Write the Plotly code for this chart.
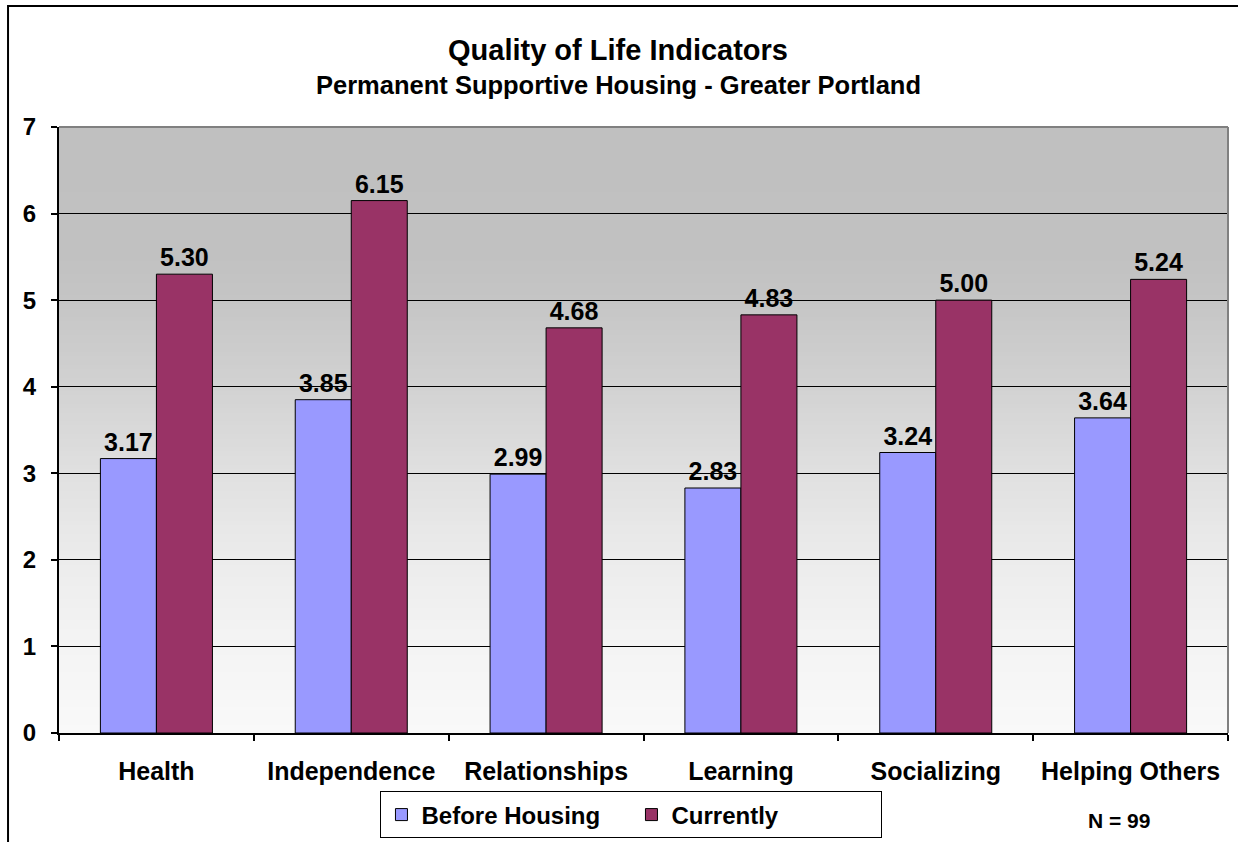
import plotly.graph_objects as go

categories = ['Health', 'Independence', 'Relationships', 'Learning', 'Socializing', 'Helping Others']
before_housing = [3.17, 3.85, 2.99, 2.83, 3.24, 3.64]
currently = [5.30, 6.15, 4.68, 4.83, 5.00, 5.24]
y_ticks = [0, 1, 2, 3, 4, 5, 6, 7]

FONT = 'Arial, Liberation Sans, sans-serif'

# background gradient stops: (y value, gray level)
grad_stops = [(0, 249), (1, 244), (2, 236), (3, 224), (4, 210), (5, 197), (5.5, 193), (7, 192)]


def gray_at(v):
    for (y0, g0), (y1, g1) in zip(grad_stops[:-1], grad_stops[1:]):
        if y0 <= v <= y1:
            t = (v - y0) / (y1 - y0)
            g = round(g0 + t * (g1 - g0))
            return f'rgb({g},{g},{g})'
    return 'rgb(192,192,192)'


fig = go.Figure()

for name, vals, color in [('Before Housing', before_housing, '#9999ff'),
                          ('Currently', currently, '#993366')]:
    fig.add_trace(go.Bar(
        x=categories, y=vals, name=name,
        marker=dict(color=color, line=dict(color='black', width=1)),
        text=[f'{v:.2f}' for v in vals], textposition='outside',
        textfont=dict(family=FONT, size=25, color='black'),
        texttemplate='<b>%{text}</b>', cliponaxis=False,
    ))

shapes = []
step = 0.05
n = int(7 / step)
for i in range(n):
    y0 = i * step
    shapes.append(dict(
        type='rect', xref='paper', yref='y', x0=0, x1=1, y0=y0, y1=y0 + step + 0.01,
        fillcolor=gray_at(y0 + step / 2), line=dict(width=0), layer='below',
    ))
# plot area border (top and right gray)
shapes.append(dict(type='line', xref='paper', yref='paper', x0=0, x1=1, y0=1, y1=1,
                   line=dict(color='#808080', width=2)))
shapes.append(dict(type='line', xref='paper', yref='paper', x0=1, x1=1, y0=0, y1=1,
                   line=dict(color='#808080', width=2)))
# outer chart border
shapes.append(dict(type='rect', xref='paper', yref='paper', x0=-0.0436, x1=1.2, y0=-0.3, y1=1.1997,
                   line=dict(color='black', width=2), fillcolor='rgba(0,0,0,0)'))

fig.update_layout(
    width=1238, height=842,
    margin=dict(l=59, r=10, t=127, b=109, autoexpand=False),
    paper_bgcolor='white', plot_bgcolor='white',
    font=dict(family=FONT, color='black'),
    barmode='group', bargap=0.425, bargroupgap=0,
    shapes=shapes,
    showlegend=True,
    legend=dict(
        orientation='h', x=0.4897, xanchor='center', y=-0.0965, yanchor='top',
        bordercolor='black', borderwidth=1, bgcolor='white',
        font=dict(family=FONT, size=24, color='black', weight='bold'),
        entrywidth=205,
    ),
    annotations=[
        dict(text='<b>Quality of Life Indicators</b>', xref='paper', yref='paper',
             x=0.4786, y=1.127, xanchor='center', yanchor='middle', showarrow=False,
             font=dict(size=29, family=FONT)),
        dict(text='<b>Permanent Supportive Housing - Greater Portland</b>', xref='paper', yref='paper',
             x=0.4786, y=1.069, xanchor='center', yanchor='middle', showarrow=False,
             font=dict(size=25.5, family=FONT)),
        dict(text='<b>N = 99</b>', xref='paper', yref='paper',
             x=0.9068, y=-0.144, xanchor='center', yanchor='middle', showarrow=False,
             font=dict(size=21, family=FONT)),
    ],
)

fig.update_xaxes(
    showline=True, linecolor='black', linewidth=2,
    ticks='outside', tickson='boundaries', ticklen=6, tickcolor='black', tickwidth=2,
    tickfont=dict(family=FONT, size=25, color='black', weight='bold'),
    ticklabelstandoff=15, showgrid=False, automargin=False,
)
fig.update_yaxes(
    range=[0, 7], tickvals=y_ticks, ticktext=[f'<b>{t}</b>' for t in y_ticks],
    showline=True, linecolor='black', linewidth=2,
    ticks='outside', ticklen=6, tickcolor='black', tickwidth=2,
    tickfont=dict(family=FONT, size=24, color='black'),
    ticklabelstandoff=10, automargin=False,
    showgrid=True, gridcolor='black', gridwidth=1, zeroline=False,
)

fig.write_html('out.html', config={'displayModeBar': False},
               post_script="document.body.style.margin='0';")
